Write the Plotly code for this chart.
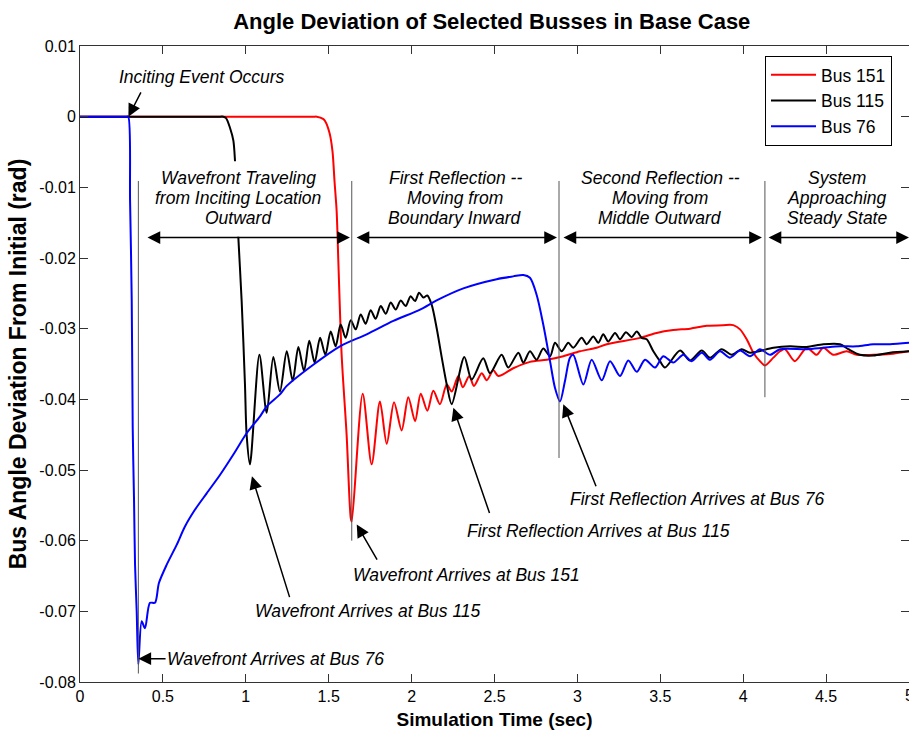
import plotly.graph_objects as go

# ---------------- data ----------------
t_151 = [0, 1.410, 1.428, 1.466, 1.478, 1.505, 1.523, 1.535, 1.548, 1.558, 1.578, 1.608, 1.633, 1.639,
         1.705, 1.759, 1.809, 1.850, 1.894, 1.940, 1.980, 2.021, 2.055, 2.095, 2.131, 2.171,
         2.212, 2.242, 2.282, 2.309, 2.348, 2.376, 2.423, 2.453, 2.493, 2.523, 2.613, 2.714,
         2.815, 2.915, 3.016, 3.116, 3.177, 3.378, 3.478, 3.578, 3.679, 3.780, 3.880, 3.940,
         3.981, 4.021, 4.061, 4.101, 4.131, 4.182, 4.222, 4.252, 4.312, 4.383, 4.443, 4.483,
         4.543, 4.624, 4.685, 4.785, 4.885, 5.0]
v_151 = [0, 0, 0, -0.0003, -0.0006, -0.0023, -0.0049, -0.0091, -0.0134, -0.0204, -0.0337, -0.0450,
         -0.0568, -0.0573,
         -0.0392, -0.0492, -0.0403, -0.0463, -0.0404, -0.0444, -0.0397, -0.0431, -0.0392,
         -0.0416, -0.0388, -0.0407, -0.0379, -0.0389, -0.0367, -0.0383, -0.0367, -0.0381,
         -0.0363, -0.0373, -0.0359, -0.0367, -0.0356, -0.0347, -0.0344, -0.0339, -0.0332,
         -0.0327, -0.0322, -0.0313, -0.0306, -0.0302, -0.0300, -0.0296, -0.0295, -0.0295,
         -0.0301, -0.0315, -0.0334, -0.0346, -0.0352, -0.0341, -0.0332, -0.0329, -0.0346,
         -0.0327, -0.0337, -0.0327, -0.0337, -0.0332, -0.0337, -0.0337, -0.0336, -0.0332]

t_115 = [0, 0.845, 0.865, 0.881, 0.905, 0.925, 0.935, 0.953, 0.975, 0.995, 1.005, 1.025,
         1.082, 1.126, 1.166, 1.206, 1.247, 1.283, 1.317, 1.351, 1.383, 1.415, 1.448, 1.480,
         1.512, 1.542, 1.572, 1.602, 1.633, 1.663, 1.693, 1.723, 1.753, 1.783, 1.814, 1.844,
         1.874, 1.904, 1.934, 1.964, 1.994, 2.021, 2.045, 2.071, 2.095, 2.121, 2.151, 2.182,
         2.212, 2.242, 2.318, 2.362, 2.432, 2.473, 2.543, 2.583, 2.644, 2.674, 2.714, 2.754,
         2.794, 2.835, 2.865, 2.905, 2.945, 2.975, 3.026, 3.056, 3.096, 3.126, 3.156, 3.186,
         3.227, 3.257, 3.293, 3.327, 3.358, 3.388, 3.418, 3.458, 3.498, 3.528, 3.619, 3.679,
         3.750, 3.800, 3.870, 3.931, 3.991, 4.041, 4.182, 4.282, 4.383, 4.483, 4.584, 4.634,
         4.704, 4.785, 4.885, 5.0]
v_115 = [0, 0, 0, -0.0002, -0.0016, -0.0034, -0.0063, -0.0162, -0.0261, -0.0379, -0.0450, -0.0492,
         -0.0337, -0.0419, -0.0340, -0.0389, -0.0332, -0.0374, -0.0326, -0.0360, -0.0317,
         -0.0348, -0.0313, -0.0337, -0.0304, -0.0325, -0.0294, -0.0313, -0.0288, -0.0301,
         -0.0280, -0.0293, -0.0274, -0.0286, -0.0268, -0.0279, -0.0263, -0.0273, -0.0260,
         -0.0268, -0.0254, -0.0261, -0.0249, -0.0256, -0.0253, -0.0266, -0.0299, -0.0341,
         -0.0379, -0.0407, -0.0340, -0.0372, -0.0342, -0.0363, -0.0337, -0.0355, -0.0334,
         -0.0348, -0.0332, -0.0344, -0.0328, -0.0339, -0.0320, -0.0332, -0.0320, -0.0327,
         -0.0313, -0.0322, -0.0311, -0.0320, -0.0308, -0.0318, -0.0306, -0.0315, -0.0305,
         -0.0312, -0.0304, -0.0313, -0.0315, -0.0332, -0.0346, -0.0355, -0.0331, -0.0345,
         -0.0331, -0.0341, -0.0329, -0.0337, -0.0329, -0.0334, -0.0327, -0.0325, -0.0326,
         -0.0322, -0.0322, -0.0329, -0.0337, -0.0338, -0.0334, -0.0332]

t_76 = [0, 0.280, 0.291, 0.302, 0.312, 0.318, 0.326, 0.332, 0.342, 0.352, 0.372, 0.392, 0.422,
        0.452, 0.476, 0.523, 0.583, 0.633, 0.694, 0.764, 0.844, 0.925, 1.005, 1.086, 1.126,
        1.206, 1.247, 1.407, 1.568, 1.729, 1.890, 2.051, 2.151, 2.312, 2.513, 2.613, 2.674,
        2.714, 2.754, 2.794, 2.835, 2.865, 2.895, 2.925, 2.955, 2.975, 3.036, 3.086, 3.147,
        3.197, 3.257, 3.307, 3.358, 3.408, 3.468, 3.518, 3.578, 3.639, 3.689, 3.750, 3.800,
        3.860, 3.920, 3.981, 4.041, 4.101, 4.162, 4.222, 4.383, 4.483, 4.584, 4.685, 4.785,
        4.885, 5.0]
v_76 = [0, 0, 0, -0.0119, -0.0261, -0.0441, -0.0544, -0.0634, -0.0700, -0.0775, -0.0714,
        -0.0724, -0.0688, -0.0688, -0.0660, -0.0634, -0.0606, -0.0580, -0.0556, -0.0533,
        -0.0507, -0.0478, -0.0448, -0.0424, -0.0410, -0.0393, -0.0381, -0.0351, -0.0325,
        -0.0308, -0.0289, -0.0273, -0.0260, -0.0243, -0.0230, -0.0226, -0.0224, -0.0228,
        -0.0252, -0.0294, -0.0346, -0.0384, -0.0403, -0.0374, -0.0341, -0.0337, -0.0379,
        -0.0344, -0.0373, -0.0346, -0.0367, -0.0345, -0.0361, -0.0344, -0.0355, -0.0339,
        -0.0348, -0.0337, -0.0346, -0.0334, -0.0344, -0.0332, -0.0341, -0.0331, -0.0339,
        -0.0329, -0.0337, -0.0329, -0.0329, -0.0327, -0.0325, -0.0325, -0.0322, -0.0322,
        -0.0320]

series_names = ["Bus 151", "Bus 115", "Bus 76"]
series_colors = ["#FF0000", "#000000", "#0000FF"]

x_tick_vals = [0, 0.5, 1, 1.5, 2, 2.5, 3, 3.5, 4, 4.5, 5]
x_tick_text = ["0", "0.5", "1", "1.5", "2", "2.5", "3", "3.5", "4", "4.5", "5"]
y_tick_vals = [0.01, 0, -0.01, -0.02, -0.03, -0.04, -0.05, -0.06, -0.07, -0.08]
y_tick_text = ["0.01", "0", "-0.01", "-0.02", "-0.03", "-0.04", "-0.05", "-0.06", "-0.07", "-0.08"]

# phase boundaries (time) and the region labels
boundary_t = [0.352, 1.639, 2.889, 4.131]
boundary_bottom = [-0.0788, -0.0600, -0.0483, -0.0397]
phase_spans = [(0.398, 1.628), (1.659, 2.877), (2.907, 4.113), (4.144, 5.0)]
phase_label_x = [0.953, 2.262, 3.501, 4.564]
phase_labels = [
    ["Wavefront Traveling", "from Inciting Location", "Outward"],
    ["First Reflection --", "Moving from", "Boundary Inward"],
    ["Second Reflection --", "Moving from", "Middle Outward"],
    ["System", "Approaching", "Steady State"],
]
phase_line_y = [-0.00868, -0.01151, -0.01435]
phase_arrow_y = -0.01711

# callouts: text, text position, arrow head, arrow tail
callouts = [
    ("Inciting Event Occurs", (0.736, 0.00562), (0.292, 0.0), (0.372, 0.00364)),
    ("Wavefront Arrives at Bus 76", (1.182, -0.0767), (0.352, -0.0767), (0.525, -0.0767)),
    ("Wavefront Arrives at Bus 115", (1.737, -0.0699), (1.037, -0.0509), (1.267, -0.0682)),
    ("Wavefront Arrives at Bus 151", (2.334, -0.0649), (1.669, -0.0577), (1.797, -0.0629)),
    ("First Reflection Arrives at Bus 115", (3.130, -0.0587), (2.252, -0.0412), (2.473, -0.0563)),
    ("First Reflection Arrives at Bus 76", (3.721, -0.0541), (2.915, -0.0407), (3.116, -0.0525)),
]

FONT = "Arial, Liberation Sans, sans-serif"
AXC = "#333333"

fig = go.Figure()
for t, v, name, col in zip([t_151, t_115, t_76], [v_151, v_115, v_76], series_names, series_colors):
    fig.add_trace(go.Scatter(x=t, y=v, mode="lines", name=name,
                             line=dict(color=col, width=2, shape="spline", smoothing=0.8)))

shapes = []
# white patch behind the first region label (hides the curve as in the original)
shapes.append(dict(type="rect", xref="x", yref="y", x0=0.5, x1=1.4, y0=-0.0170, y1=-0.0063,
                   fillcolor="white", line=dict(width=0), layer="above"))
for bt, bb in zip(boundary_t, boundary_bottom):
    shapes.append(dict(type="line", xref="x", yref="y", x0=bt, x1=bt, y0=-0.0091, y1=bb,
                       line=dict(color="#555555", width=1), layer="above"))

annotations = []
it_font = dict(family=FONT, size=17.5, color="black", style="italic")
for cx, lines in zip(phase_label_x, phase_labels):
    for ly, txt in zip(phase_line_y, lines):
        annotations.append(dict(x=cx, y=ly, xref="x", yref="y", text=txt, showarrow=False,
                                font=it_font, xanchor="center", yanchor="middle"))
for (x0, x1) in phase_spans:
    annotations.append(dict(x=x1, y=phase_arrow_y, ax=x0, ay=phase_arrow_y, xref="x", yref="y",
                            axref="x", ayref="y", text="", showarrow=True, arrowside="end+start",
                            arrowhead=2, startarrowhead=2, arrowsize=1.7, startarrowsize=1.7,
                            arrowwidth=1.5, arrowcolor="black"))
for txt, (tx, ty), (hx, hy), (sx, sy) in callouts:
    annotations.append(dict(x=tx, y=ty, xref="x", yref="y", text=txt, showarrow=False,
                            font=it_font, xanchor="center", yanchor="middle"))
    annotations.append(dict(x=hx, y=hy, ax=sx, ay=sy, xref="x", yref="y", axref="x", ayref="y",
                            text="", showarrow=True, arrowhead=2, arrowsize=1.7, arrowwidth=1.5,
                            arrowcolor="black"))
# last x tick label sits on the page edge (half cut off, as in the original)
annotations.append(dict(x=x_tick_vals[-1], y=-0.022, xref="x", yref="paper", text=x_tick_text[-1],
                        showarrow=False, xanchor="center", yanchor="middle",
                        font=dict(family=FONT, size=16, color="black")))

fig.update_layout(
    width=909, height=732,
    margin=dict(l=80, r=0, t=46, b=50),
    paper_bgcolor="white", plot_bgcolor="white",
    font=dict(family=FONT, color="black"),
    title=dict(text="Angle Deviation of Selected Busses in Base Case",
               font=dict(family=FONT, size=22, weight="bold", color="black"),
               xref="container", yref="container", x=0.541, y=0.9709,
               xanchor="center", yanchor="middle"),
    showlegend=True,
    legend=dict(x=0.9795, y=0.9843, xanchor="right", yanchor="top",
                bgcolor="white", bordercolor="black", borderwidth=1,
                font=dict(family=FONT, size=17.5, color="black"), itemwidth=45,
                tracegroupgap=0),
    shapes=shapes,
    annotations=annotations,
)
fig.update_xaxes(range=[0, 5], tickvals=x_tick_vals, ticktext=x_tick_text,
                 showgrid=False, zeroline=False, showline=True, linecolor=AXC, linewidth=1,
                 mirror="ticks", ticks="inside", ticklen=8, tickcolor=AXC,
                 tickfont=dict(family=FONT, size=16, color="black"),
                 title=dict(text="Simulation Time (sec)", standoff=8,
                            font=dict(family=FONT, size=19, weight="bold", color="black")))
fig.update_yaxes(range=[-0.08, 0.01], tickvals=y_tick_vals, ticktext=y_tick_text,
                 showgrid=False, zeroline=False, showline=True, linecolor=AXC, linewidth=1,
                 mirror="ticks", ticks="inside", ticklen=8, tickcolor=AXC,
                 tickfont=dict(family=FONT, size=16, color="black"),
                 title=dict(text="Bus Angle Deviation From Initial (rad)", standoff=6,
                            font=dict(family=FONT, size=23, weight="bold", color="black")))

fig.write_html("out.html")
